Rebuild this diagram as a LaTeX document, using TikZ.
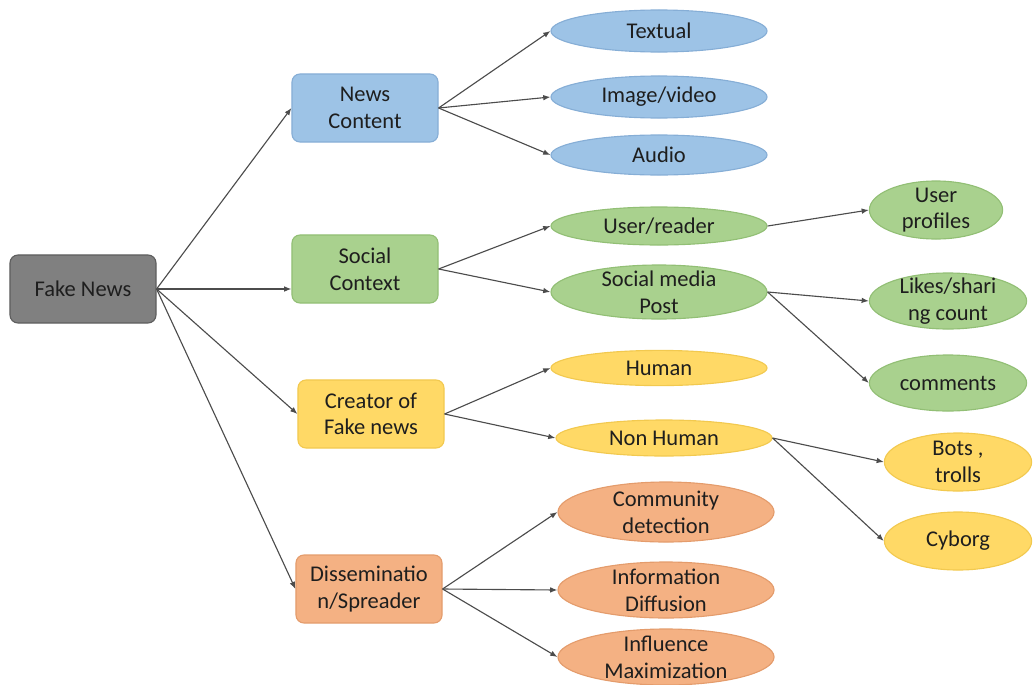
\documentclass[tikz,border=0pt]{standalone}
\usepackage{fontspec}
\setmainfont{Carlito}
\usepackage{xcolor}
\usetikzlibrary{arrows.meta,shapes.geometric}

\definecolor{graybox}{HTML}{808080}
\definecolor{grayline}{HTML}{5E5E5E}
\definecolor{bluebox}{HTML}{9DC3E6}
\definecolor{blueline}{HTML}{86AED6}
\definecolor{greenbox}{HTML}{A9D18E}
\definecolor{greenline}{HTML}{92BF75}
\definecolor{yellowbox}{HTML}{FFD966}
\definecolor{yellowline}{HTML}{F2C94F}
\definecolor{orangebox}{HTML}{F4B183}
\definecolor{orangeline}{HTML}{E49C6C}
\definecolor{labeltext}{HTML}{1E1E1E}

\begin{document}
\begin{tikzpicture}[
    x=0.025cm, y=-0.025cm,
    base/.style={draw, align=center, text=labeltext, line width=0.8pt,
        font=\fontsize{16}{19}\selectfont},
    box/.style={base, rounded corners=2mm, minimum width=3.65cm, minimum height=1.7cm, inner sep=1mm},
    leaf/.style={base, ellipse, minimum width=5.4cm, minimum height=1.05cm, inner xsep=0pt, inner ysep=-3pt},
    rootbox/.style={box, fill=graybox, draw=grayline},
    bluebox/.style={box, fill=bluebox, draw=blueline},
    greenbox/.style={box, fill=greenbox, draw=greenline},
    yellowbox/.style={box, fill=yellowbox, draw=yellowline},
    orangebox/.style={box, fill=orangebox, draw=orangeline},
    blueleaf/.style={leaf, fill=bluebox, draw=blueline},
    greenleaf/.style={leaf, fill=greenbox, draw=greenline},
    yellowleaf/.style={leaf, fill=yellowbox, draw=yellowline},
    orangeleaf/.style={leaf, fill=orangebox, draw=orangeline},
    arrow/.style={-{Latex[length=1.8mm,width=1.4mm]}, line width=0.8pt, draw=black!70}
]
\useasboundingbox (0,0) rectangle (1036,684);
% root and branches
\node[rootbox] (fakenews) at (83,289) {Fake News};
\node[bluebox] (newscontent) at (365,108) {News\\Content};
\node[greenbox] (socialcontext) at (365,269) {Social\\Context};
\node[yellowbox] (creator) at (371,414) {Creator of\\Fake news};
\node[orangebox] (spreader) at (369,589) {Disseminatio\\n/Spreader};
% leaves
\node[blueleaf] (textual) at (659,31) {Textual};
\node[blueleaf] (imagevideo) at (659,97) {Image/video};
\node[blueleaf, minimum height=1.0cm] (audio) at (659,155) {Audio};
\node[greenleaf, minimum height=0.95cm] (userreader) at (659,226) {User/reader};
\node[greenleaf, minimum height=1.35cm] (socialpost) at (659,292) {Social media\\Post};
\node[yellowleaf, minimum height=0.88cm] (human) at (659,368) {Human};
\node[yellowleaf, minimum height=0.9cm] (nonhuman) at (664,438) {Non Human};
\node[orangeleaf, minimum height=1.5cm] (community) at (666,512) {Community\\detection};
\node[orangeleaf, minimum height=1.4cm] (diffusion) at (666,590) {Information\\Diffusion};
\node[orangeleaf, minimum height=1.4cm] (influence) at (666,657) {Influence\\Maximization};
\node[greenleaf, minimum width=3.33cm, minimum height=1.45cm] (userprofiles) at (936,210) {User\\profiles};
\node[greenleaf, minimum width=3.93cm, minimum height=1.4cm] (likes) at (948,301) {Likes/shari\\ng count};
\node[greenleaf, minimum width=3.93cm, minimum height=1.4cm] (comments) at (948,383) {comments};
\node[yellowleaf, minimum width=3.68cm, minimum height=1.45cm] (bots) at (958,462) {Bots ,\\trolls};
\node[yellowleaf, minimum width=3.68cm, minimum height=1.45cm] (cyborg) at (958,541) {Cyborg};
% connectors
\draw[arrow] (fakenews.east) -- (newscontent.west);
\draw[arrow] (fakenews.east) -- (fakenews.east -| socialcontext.west);
\draw[arrow] (fakenews.east) -- (creator.west);
\draw[arrow] (fakenews.east) -- (spreader.west);
\draw[arrow] (newscontent.east) -- (textual.west);
\draw[arrow] (newscontent.east) -- (imagevideo.west);
\draw[arrow] (newscontent.east) -- (audio.west);
\draw[arrow] (socialcontext.east) -- (userreader.west);
\draw[arrow] (socialcontext.east) -- (socialpost.west);
\draw[arrow] (creator.east) -- (human.west);
\draw[arrow] (creator.east) -- (nonhuman.west);
\draw[arrow] (spreader.east) -- (community.west);
\draw[arrow] (spreader.east) -- (diffusion.west);
\draw[arrow] (spreader.east) -- (influence.west);
\draw[arrow] (userreader.east) -- (userprofiles.west);
\draw[arrow] (socialpost.east) -- (likes.west);
\draw[arrow] (socialpost.east) -- (comments.west);
\draw[arrow] (nonhuman.east) -- (bots.west);
\draw[arrow] (nonhuman.east) -- (cyborg.west);
\end{tikzpicture}
\end{document}
